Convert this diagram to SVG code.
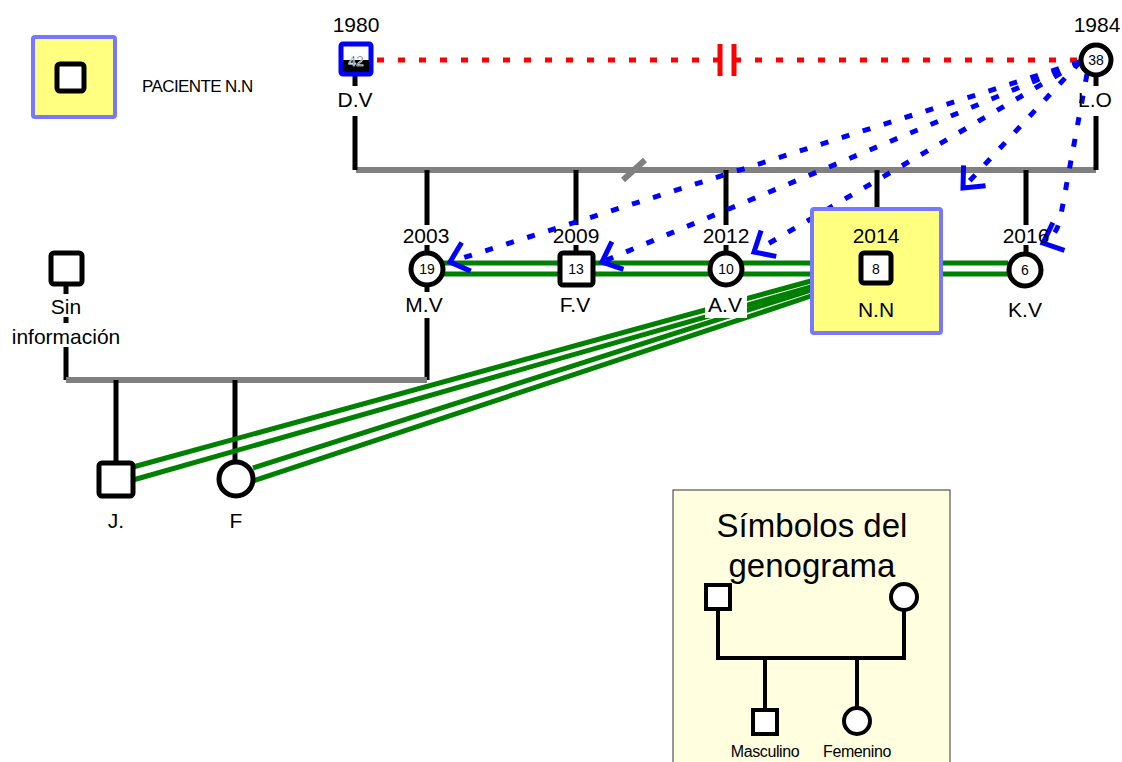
<svg xmlns="http://www.w3.org/2000/svg" width="1122" height="762" viewBox="0 0 1122 762">
<style>
text{font-family:"Liberation Sans",Arial,sans-serif;fill:#000}
.yr{font-size:21px;text-anchor:middle}
.lb{font-size:21px;text-anchor:middle}
.age{font-size:14px;text-anchor:middle}
.blk{stroke:#000;stroke-width:5;fill:none}
.gray{stroke:#808080;stroke-width:6;fill:none}
.grn{stroke:#008000;stroke-width:5;fill:none}
.blu{stroke:#0000FF;stroke-width:5;fill:none;stroke-dasharray:8 14;marker-end:url(#chev)}
.circ{fill:#fff;stroke:#000;stroke-width:5}
.sq{fill:#fff;stroke:#000;stroke-width:5;stroke-linejoin:round}
.pat{fill:#FFFF80;stroke:#7777FF;stroke-width:4}
</style>
<defs>
<marker id="chev" markerUnits="userSpaceOnUse" markerWidth="40" markerHeight="40" viewBox="-30 -20 40 40" refX="0" refY="0" orient="auto" overflow="visible">
<path d="M -17 -15 L 0 0 L -17 15" fill="none" stroke="#0000FF" stroke-width="5"/>
</marker>
</defs>
<rect width="1122" height="762" fill="#fff"/>

<g id="connectors">
<line x1="356" y1="170" x2="1096" y2="170" class="gray"/>
<line x1="623" y1="180" x2="645" y2="160" class="gray"/>
<line x1="355" y1="76" x2="355" y2="86" class="blk"/>
<line x1="355" y1="116" x2="355" y2="170" class="blk"/>
<line x1="1096" y1="76" x2="1096" y2="86" class="blk"/>
<line x1="1096" y1="116" x2="1096" y2="170" class="blk"/>
<line x1="427" y1="170" x2="427" y2="225" class="blk"/>
<line x1="576" y1="170" x2="576" y2="225" class="blk"/>
<line x1="726" y1="170" x2="726" y2="225" class="blk"/>
<line x1="877" y1="170" x2="877" y2="208" class="blk"/>
<line x1="1026" y1="170" x2="1026" y2="225" class="blk"/>
<line x1="427" y1="245" x2="427" y2="252" class="blk"/>
<line x1="576" y1="245" x2="576" y2="252" class="blk"/>
<line x1="726" y1="245" x2="726" y2="252" class="blk"/>
<line x1="1026" y1="245" x2="1026" y2="252" class="blk"/>
<line x1="427" y1="285" x2="427" y2="292" class="blk"/>
<line x1="427" y1="318" x2="427" y2="380" class="blk"/>
<line x1="66" y1="285" x2="66" y2="294" class="blk"/>
<line x1="66" y1="317" x2="66" y2="323" class="blk"/>
<line x1="66" y1="347" x2="66" y2="380" class="blk"/>
<line x1="66" y1="380" x2="427" y2="380" class="gray"/>
<line x1="116" y1="380" x2="116" y2="462" class="blk"/>
<line x1="235" y1="380" x2="235" y2="462" class="blk"/>
<line x1="377" y1="60" x2="1080" y2="60" stroke="#FF0000" stroke-width="5" stroke-dasharray="7 14"/>
<line x1="720" y1="44" x2="720" y2="76" stroke="#FF0000" stroke-width="5"/>
<line x1="734" y1="44" x2="734" y2="76" stroke="#FF0000" stroke-width="5"/>
<line x1="443" y1="263" x2="811" y2="263" class="grn"/>
<line x1="443" y1="274" x2="811" y2="274" class="grn"/>
<line x1="941" y1="263" x2="1008" y2="263" class="grn"/>
<line x1="941" y1="274" x2="1008" y2="274" class="grn"/>
<line x1="133" y1="467" x2="811" y2="281" class="grn"/>
<line x1="133" y1="480" x2="811" y2="287" class="grn"/>
<line x1="253" y1="468" x2="811" y2="290" class="grn"/>
<line x1="253" y1="481" x2="811" y2="296" class="grn"/>
<line x1="1080" y1="62" x2="450" y2="262" class="blu"/>
<line x1="1080" y1="62" x2="602" y2="262" class="blu"/>
<line x1="1080" y1="62" x2="754" y2="252" class="blu"/>
<line x1="1080" y1="62" x2="963" y2="188" class="blu"/>
<path d="M 1087 74 L 1060 220 Q 1055 238 1043 243" class="blu"/>
</g>

<g id="legend-paciente">
<rect x="33" y="37" width="82" height="80" rx="2" class="pat"/>
<rect x="57" y="64" width="27" height="27" rx="3" class="sq"/>
<text x="142" y="92" font-size="17" letter-spacing="-0.6">PACIENTE N.N</text>
</g>

<g id="node-DV">
<text x="356" y="32" class="yr">1980</text>
<rect x="341" y="44" width="30" height="30" fill="#fff" stroke="#0000FF" stroke-width="5" rx="2"/>
<rect x="343" y="60" width="26" height="12" fill="#000"/>
<text x="356" y="66" class="age" stroke="#fff" stroke-width="0.6">42</text>
<text x="355" y="107" class="lb">D.V</text>
</g>

<g id="node-LO">
<text x="1097" y="32" class="yr">1984</text>
<circle cx="1096" cy="60" r="15" class="circ"/>
<text x="1096" y="65" class="age">38</text>
<text x="1095" y="107" class="lb">L.O</text>
</g>

<g id="node-MV">
<text x="426" y="243" class="yr">2003</text>
<circle cx="427" cy="269" r="16" class="circ"/>
<text x="427" y="274" class="age">19</text>
<text x="424" y="312" class="lb">M.V</text>
</g>

<g id="node-FV">
<text x="576" y="243" class="yr">2009</text>
<rect x="560" y="253" width="33" height="32" rx="3" class="sq"/>
<text x="576" y="274" class="age">13</text>
<text x="575" y="312" class="lb">F.V</text>
</g>

<g id="node-AV">
<text x="726" y="243" class="yr">2012</text>
<circle cx="726" cy="269" r="16" class="circ"/>
<text x="726" y="274" class="age">10</text>
<rect x="705" y="294" width="42" height="24" fill="#fff"/>
<text x="725" y="312" class="lb">A.V</text>
</g>

<g id="node-NN">
<rect x="812" y="209" width="129" height="124" rx="2" class="pat"/>
<text x="876" y="243" class="yr">2014</text>
<rect x="861" y="253" width="30" height="30" rx="3" class="sq"/>
<text x="876" y="274" class="age">8</text>
<text x="876" y="317" class="lb">N.N</text>
</g>

<g id="node-KV">
<text x="1026" y="243" class="yr">2016</text>
<circle cx="1025" cy="270" r="16" class="circ"/>
<text x="1025" y="275" class="age">6</text>
<text x="1025" y="317" class="lb">K.V</text>
</g>

<g id="node-sin">
<rect x="51" y="253" width="31" height="31" rx="3" class="sq"/>
<text x="66" y="314" class="lb">Sin</text>
<text x="66" y="344" class="lb">información</text>
</g>

<g id="node-J">
<rect x="99" y="463" width="34" height="33" rx="3" class="sq"/>
<text x="116" y="528" class="lb">J.</text>
</g>

<g id="node-F">
<circle cx="236" cy="479" r="17" class="circ"/>
<text x="236" y="528" class="lb">F</text>
</g>

<g id="legend-simbolos">
<rect x="673" y="490" width="277" height="280" fill="#FFFFE0" stroke="#333" stroke-width="1"/>
<text x="812" y="537" font-size="33" text-anchor="middle">Símbolos del</text>
<text x="812" y="577" font-size="33" text-anchor="middle">genograma</text>
<polyline points="718,609 718,658 904,658 904,610" fill="none" stroke="#000" stroke-width="4"/>
<line x1="765" y1="658" x2="765" y2="710" stroke="#000" stroke-width="4"/>
<line x1="857" y1="658" x2="857" y2="708" stroke="#000" stroke-width="4"/>
<rect x="706" y="585" width="24" height="24" fill="#fff" stroke="#000" stroke-width="4"/>
<circle cx="904" cy="597" r="13" fill="#fff" stroke="#000" stroke-width="4"/>
<rect x="753" y="710" width="24" height="24" fill="#fff" stroke="#000" stroke-width="4"/>
<circle cx="857" cy="721" r="13" fill="#fff" stroke="#000" stroke-width="4"/>
<text x="765" y="757" font-size="16" text-anchor="middle" letter-spacing="-0.4">Masculino</text>
<text x="857" y="757" font-size="16" text-anchor="middle" letter-spacing="-0.4">Femenino</text>
</g>
</svg>
